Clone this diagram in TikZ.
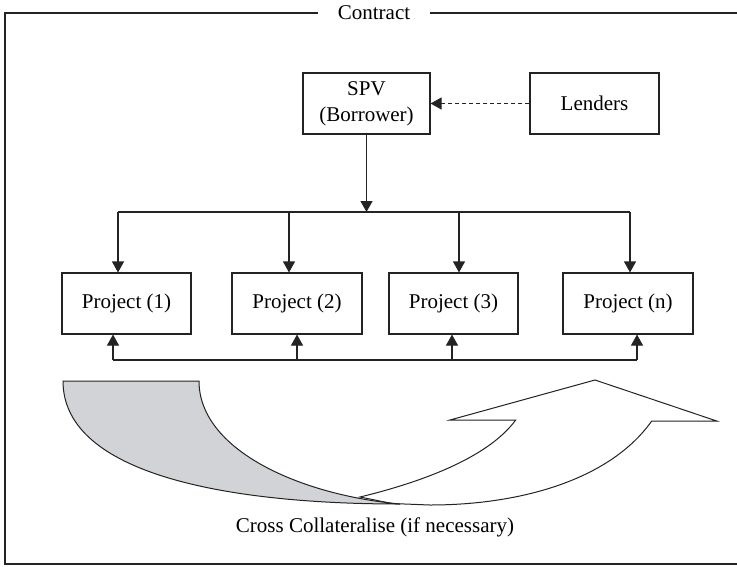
\documentclass[tikz,border=0pt]{standalone}
\usepackage{fontspec}
\setmainfont{Liberation Serif}
\usetikzlibrary{arrows.meta}
\definecolor{ink}{RGB}{35,35,35}
\definecolor{shade}{RGB}{210,211,214}
\begin{document}
\begin{tikzpicture}[x=1pt,y=-1pt,
  font=\fontsize{21}{26}\selectfont,
  box/.style={draw=ink, line width=1.1pt, minimum height=61pt, inner sep=0pt, align=center},
  link/.style={draw=ink, line width=1.1pt, -{Triangle[length=11pt,width=12pt]}},
  dlink/.style={link, dash pattern=on 4pt off 3pt},
  rule/.style={draw=ink, line width=1.1pt},
  band/.style={draw=ink, line width=1pt, line join=miter}]
\useasboundingbox (0,0) rectangle (737,566);

% outer contract frame with its title set into the top rule
\node[inner xsep=20pt, inner ysep=0pt] (contract) at (374,13) {Contract};
\draw[rule] (contract.west) -| (5,564) -- (745,564);
\draw[rule] (contract.east) -- (745,13);

% borrower and lenders
\node[box, minimum width=127pt] (spv) at (366.5,103.5) {SPV\\(Borrower)};
\node[box, minimum width=129pt] (lenders) at (594.5,103.5) {Lenders};
\draw[dlink] (lenders.west) -- (spv.east);

% projects
\node[box, minimum width=129pt] (p1) at (126.5,303.5) {Project (1)};
\node[box, minimum width=130pt] (p2) at (297,303.5) {Project (2)};
\node[box, minimum width=129pt] (p3) at (453.5,303.5) {Project (3)};
\node[box, minimum width=130pt] (pn) at (628,303.5) {Project (n)};

% distribution bus from the SPV
\coordinate (d1) at (118,212);
\coordinate (d2) at (289,212);
\coordinate (d3) at (459,212);
\coordinate (dn) at (630,212);
\draw[link] (spv.south) -- (spv.south |- d1);
\draw[rule] (d1) -- (dn);
\draw[link] (d1) -- (d1 |- p1.north);
\draw[link] (d2) -- (d2 |- p2.north);
\draw[link] (d3) -- (d3 |- p3.north);
\draw[link] (dn) -- (dn |- pn.north);

% cross-collateral bus below the projects
\coordinate (u1) at (113,360);
\coordinate (u2) at (297,360);
\coordinate (u3) at (452,360);
\coordinate (un) at (637,360);
\draw[rule] (u1) -- (un);
\draw[link] (u1) -- (u1 |- p1.south);
\draw[link] (u2) -- (u2 |- p2.south);
\draw[link] (u3) -- (u3 |- p3.south);
\draw[link] (un) -- (un |- pn.south);

% curved turning arrow: white rising head, grey tail in front
\draw[band, fill=white]
  (360,497) .. controls (430,480) and (490,455) .. (515.7,420)
  -- (450,420) -- (595,380) -- (716.7,421) -- (651.7,421)
  .. controls (610,480) and (520,505) .. (430,505)
  -- (392,503.5) -- cycle;
\draw[band, fill=shade]
  (63,381) -- (199,381)
  .. controls (199,450) and (300,495) .. (400,504)
  .. controls (230,504) and (63,475) .. (63,381) -- cycle;

\node (caption) at (375,527) {Cross Collateralise (if necessary)};
\end{tikzpicture}
\end{document}
